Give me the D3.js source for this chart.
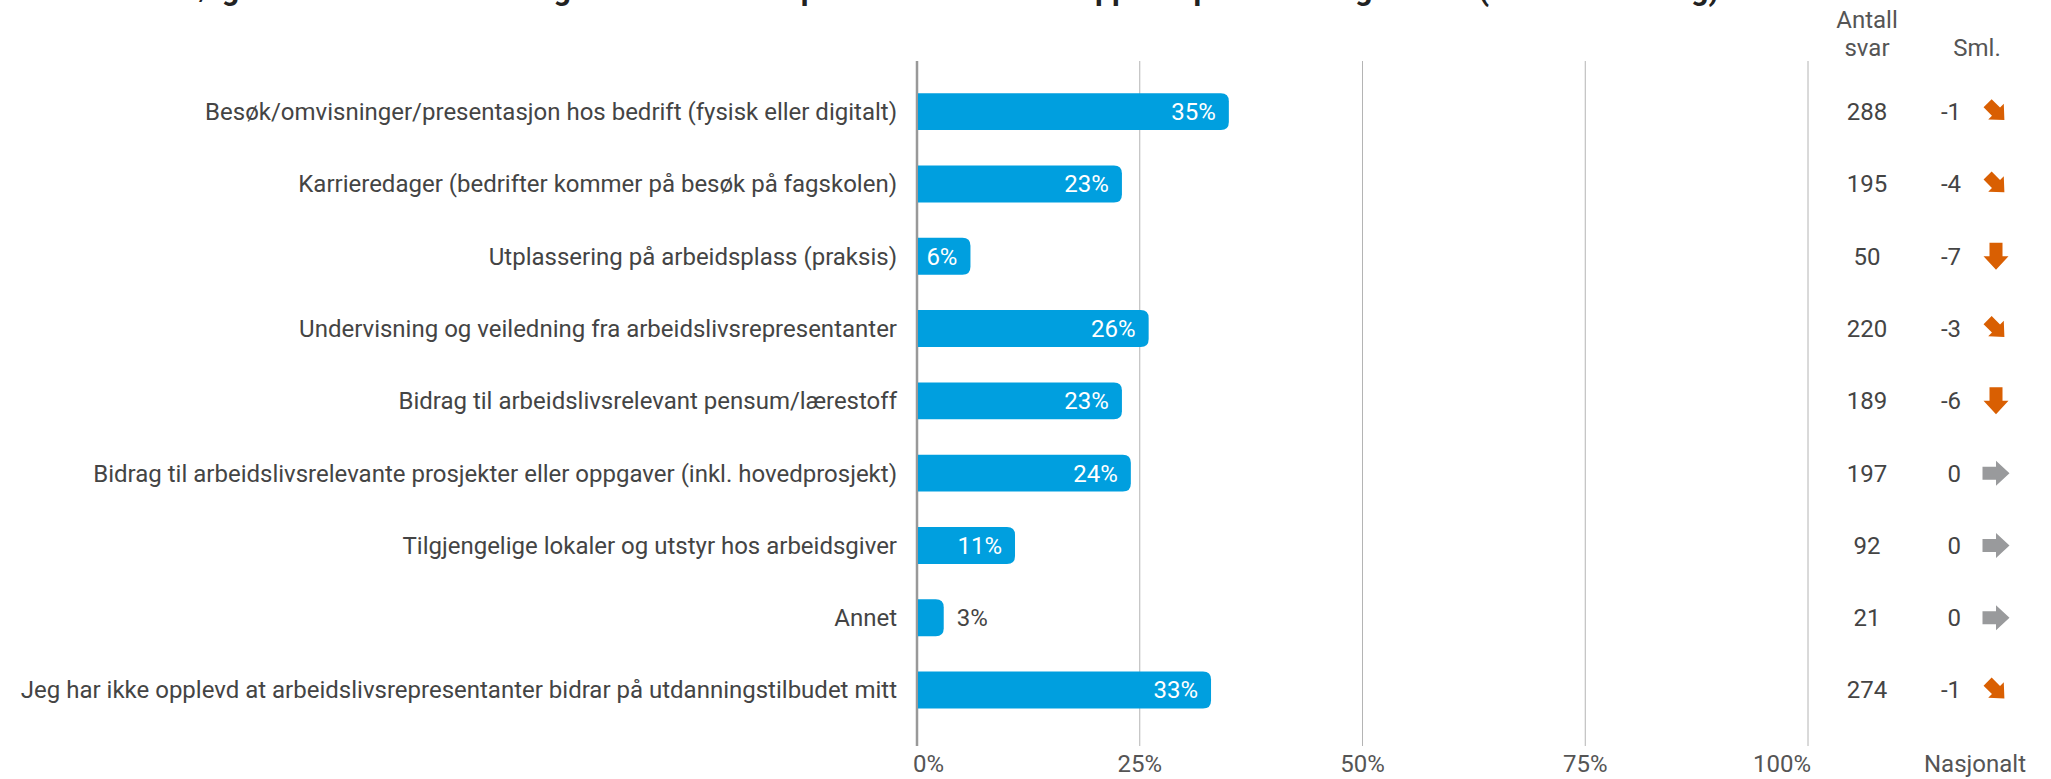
<!DOCTYPE html>
<html>
<head>
  <meta charset="UTF-8">
  <script src="https://d3js.org/d3.v7.min.js"></script>
  <style>
    body { margin: 0; background: #fff; }
    svg { display: block; font-family: Roboto, sans-serif; }
  </style>
</head>
<body>
<svg></svg>
<script>
  let width = 2051,
    height = 779;

  const title = "Hvilke av de følgende formene for bidrag fra arbeidslivsrepresentanter har du opplevd på utdanningen din? (Flere svar mulig)";

  const categories = [
    "Besøk/omvisninger/presentasjon hos bedrift (fysisk eller digitalt)",
    "Karrieredager (bedrifter kommer på besøk på fagskolen)",
    "Utplassering på arbeidsplass (praksis)",
    "Undervisning og veiledning fra arbeidslivsrepresentanter",
    "Bidrag til arbeidslivsrelevant pensum/lærestoff",
    "Bidrag til arbeidslivsrelevante prosjekter eller oppgaver (inkl. hovedprosjekt)",
    "Tilgjengelige lokaler og utstyr hos arbeidsgiver",
    "Annet",
    "Jeg har ikke opplevd at arbeidslivsrepresentanter bidrar på utdanningstilbudet mitt"
  ];
  const percent = [35, 23, 6, 26, 23, 24, 11, 3, 33];
  const antall = [288, 195, 50, 220, 189, 197, 92, 21, 274];
  const sml = [-1, -4, -7, -3, -6, 0, 0, 0, -1];
  const ticks = [0, 25, 50, 75, 100];

  let rows = categories.map((c, i) => ({ cat: c, v: percent[i], n: antall[i], d: sml[i] }));

  let fs = 24;

  let svg = d3.select("svg")
    .attr("width", width)
    .attr("height", height);

  let x = d3.scaleLinear().domain([0, 100]).range([917, 1808]);
  let y = d3.scaleBand().domain(categories).range([75.5, 726.2])
    .paddingInner(0.49).paddingOuter(0.245);

  // title (cut off at the top in the original)
  svg.append("text")
    .attr("x", 12).attr("y", 0)
    .attr("font-size", 30.5).attr("font-weight", "bold")
    .attr("fill", "#222")
    .text(title);

  // grid
  svg.append("g").selectAll("line")
    .data(ticks)
    .enter()
    .append("line")
    .attr("x1", d => x(d)).attr("x2", d => x(d))
    .attr("y1", 61).attr("y2", 746)
    .attr("stroke", d => d == 0 ? "#999" : "#b4b4b4")
    .attr("stroke-width", d => d == 0 ? 2.5 : 1);

  svg.append("g").selectAll("text")
    .data(ticks)
    .enter()
    .append("text")
    .attr("x", (d, i) => i == 0 ? x(d) - 4 : (i == ticks.length - 1 ? x(d) + 3 : x(d)))
    .attr("y", 772)
    .attr("text-anchor", (d, i) => i == 0 ? "start" : (i == ticks.length - 1 ? "end" : "middle"))
    .attr("font-size", fs).attr("fill", "#555")
    .text(d => d + "%");

  // bars with rounded right end
  let r = 8;
  svg.append("g").selectAll("path")
    .data(rows)
    .enter()
    .append("path")
    .attr("fill", "#009fdf")
    .attr("d", d => {
      let x0 = x(0) + 1, x1 = x(d.v), y0 = y(d.cat), h = y.bandwidth();
      let rr = Math.min(r, x1 - x0);
      return "M" + x0 + "," + y0 + "H" + (x1 - rr) +
        "Q" + x1 + "," + y0 + " " + x1 + "," + (y0 + rr) +
        "V" + (y0 + h - rr) +
        "Q" + x1 + "," + (y0 + h) + " " + (x1 - rr) + "," + (y0 + h) +
        "H" + x0 + "Z";
    });

  let mid = d => y(d.cat) + y.bandwidth() / 2;

  // category labels
  svg.append("g").selectAll("text")
    .data(rows)
    .enter()
    .append("text")
    .attr("x", 897).attr("y", d => mid(d)).attr("dy", "0.35em")
    .attr("text-anchor", "end")
    .attr("font-size", fs).attr("fill", "#444")
    .text(d => d.cat);

  // value labels
  svg.append("g").selectAll("text")
    .data(rows)
    .enter()
    .append("text")
    .attr("x", d => d.v >= 5 ? x(d.v) - 13 : x(d.v) + 13)
    .attr("y", d => mid(d)).attr("dy", "0.35em")
    .attr("text-anchor", d => d.v >= 5 ? "end" : "start")
    .attr("font-size", fs)
    .attr("fill", d => d.v >= 5 ? "#fff" : "#444")
    .text(d => d.v + "%");

  // right-hand columns
  let head = svg.append("g").attr("font-size", fs).attr("fill", "#555").attr("text-anchor", "middle");
  head.append("text").attr("x", 1867).attr("y", 28).text("Antall");
  head.append("text").attr("x", 1867).attr("y", 56).text("svar");
  head.append("text").attr("x", 1977).attr("y", 56).text("Sml.");
  head.append("text").attr("x", 1975).attr("y", 772).text("Nasjonalt");

  svg.append("g").selectAll("text")
    .data(rows)
    .enter()
    .append("text")
    .attr("x", 1867).attr("y", d => mid(d)).attr("dy", "0.35em")
    .attr("text-anchor", "middle")
    .attr("font-size", fs).attr("fill", "#444")
    .text(d => d.n);

  svg.append("g").selectAll("text")
    .data(rows)
    .enter()
    .append("text")
    .attr("x", 1961).attr("y", d => mid(d)).attr("dy", "0.35em")
    .attr("text-anchor", "end")
    .attr("font-size", fs).attr("fill", "#444")
    .text(d => d.d);

  // arrows: right = unchanged, diagonal = small drop, down = large drop
  let arrow = "M-13.5,-6.5H0V-12.5L13.5,0L0,12.5V6.5H-13.5Z";
  svg.append("g").selectAll("path")
    .data(rows)
    .enter()
    .append("path")
    .attr("d", arrow)
    .attr("fill", d => d.d < 0 ? "#d95f02" : "#999a9c")
    .attr("transform", d => {
      let a = d.d == 0 ? 0 : (d.d <= -5 ? 90 : 45);
      let s = a == 45 ? 0.88 : 1;
      return "translate(1996," + mid(d) + ") rotate(" + a + ") scale(" + s + ")";
    });
</script>
</body>
</html>
